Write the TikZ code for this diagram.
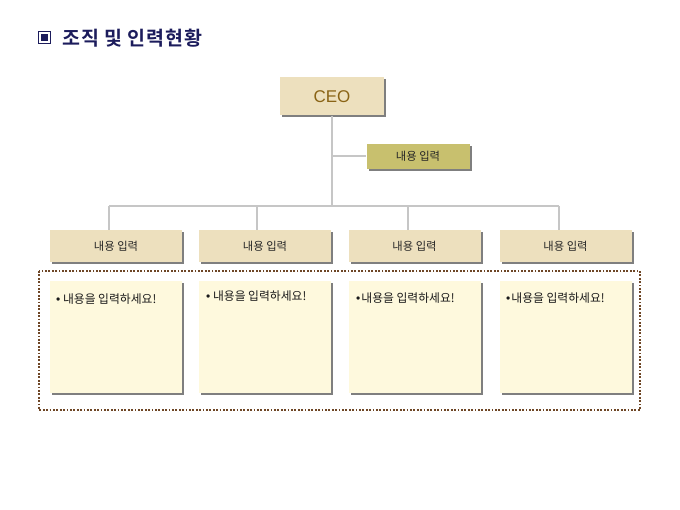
\documentclass[tikz,border=0pt]{standalone}
\usepackage{fontspec}
\newfontfamily\kr{Noto Sans CJK KR}
\newfontfamily\krb[LetterSpace=5]{Noto Sans CJK KR Bold}
\newfontfamily\lat{Liberation Sans}
\usetikzlibrary{shadows}
\definecolor{navy}{HTML}{1C1C5C}
\definecolor{beige}{HTML}{EDE0BE}
\definecolor{olive}{HTML}{C8C06E}
\definecolor{cream}{HTML}{FEF9DD}
\definecolor{shadowgray}{HTML}{7F7F7F}
\definecolor{linegray}{HTML}{C6C6C6}
\definecolor{framebrown}{HTML}{6E4626}
\definecolor{ceotext}{HTML}{8A6416}
\newcommand{\bul}{{\lat\fontsize{12}{13}\selectfont •}}
\tikzset{
  shbox/.style={rectangle, inner sep=0pt, draw=none,
    drop shadow={shadow xshift=2pt, shadow yshift=-2pt, fill=shadowgray, opacity=1}},
  ceobox/.style={shbox, fill=beige, minimum width=104pt, minimum height=38pt,
    font=\lat\fontsize{17}{20}\selectfont, text=ceotext},
  subbox/.style={shbox, fill=olive, minimum width=103pt, minimum height=25pt,
    font=\kr\fontsize{11.3}{13}\selectfont, text=black!85},
  lvlbox/.style={shbox, fill=beige, minimum width=132pt, minimum height=32pt,
    font=\kr\fontsize{11.3}{13}\selectfont, text=black!85},
  contbox/.style={shbox, fill=cream, minimum width=132pt, minimum height=112pt},
  conttext/.style={anchor=west, inner sep=0pt, font=\kr\fontsize{11.8}{13}\selectfont, text=black!90},
  conn/.style={draw=linegray, line width=2pt},
  frame/.style={draw=framebrown, line width=2pt, dash pattern=on 1.8pt off 1.6pt}
}
\begin{document}
\begin{tikzpicture}[x=1pt, y=-1pt]
\useasboundingbox (0,0) rectangle (680,510);
% title
\node[rectangle, draw=navy, line width=1pt, fill=white, minimum size=12pt, inner sep=0pt] (icon) at (44.5,37.5) {};
\node[rectangle, fill=navy, minimum size=7pt, inner sep=0pt] (iconin) at (icon.center) {};
\node[anchor=west, inner sep=0pt, text=navy, font=\krb\fontsize{19.5}{22}\selectfont] (title) at (62,38) {조직 및 인력현황};
% frame
\draw[frame] (39,271) rectangle (640,410);
% nodes
\node[ceobox] (ceo) at (332,96.5) {CEO};
\node[subbox] (sub) at (418,156.5) {내용 입력};
\foreach \i/\x in {1/116,2/265,3/414.5,4/565.5}{
  \node[lvlbox] (l\i) at (\x,246) {내용 입력};
  \node[contbox] (c\i) at (\x,337) {};
}
% connectors
\coordinate (bc) at (332,206);
\coordinate (b1) at (109,206);
\coordinate (b2) at (257,206);
\coordinate (b3) at (408,206);
\coordinate (b4) at (559,206);
\draw[conn] (ceo.south) -- (bc);
\draw[conn] (ceo.south |- sub.west) -- (sub.west);
\draw[conn] (b1) -- (b4);
\foreach \i in {1,...,4}{ \draw[conn] (b\i) -- (b\i |- l\i.north); }
% content texts
\node[conttext] (t1) at (56,299) {\bul{} 내용을 입력하세요!};
\node[conttext] (t2) at (206,296) {\bul{} 내용을 입력하세요!};
\node[conttext] (t3) at (356,298) {\bul\kern1pt 내용을 입력하세요!};
\node[conttext] (t4) at (506,298) {\bul\kern1pt 내용을 입력하세요!};
\end{tikzpicture}
\end{document}
